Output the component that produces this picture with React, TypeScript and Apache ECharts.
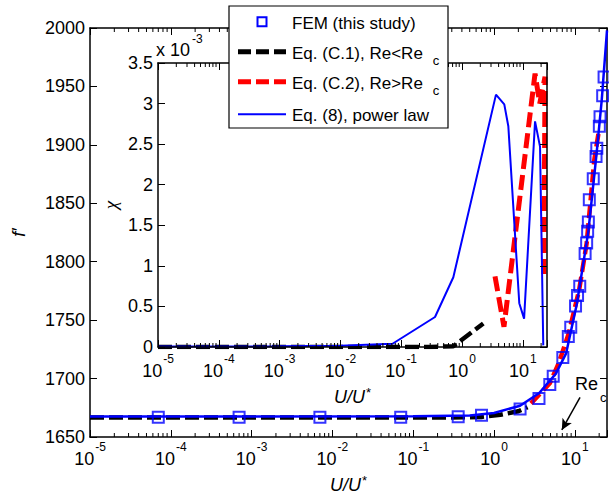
import React, { useEffect, useRef } from 'react';
import * as echarts from 'echarts';

const FONT = '"Liberation Sans", Arial, Helvetica, sans-serif';
const X_MIN = 1e-5;
const X_MAX = 25;

// ---------- names ----------
const NAME_FEM = 'FEM (this study)';
const NAME_C1 = 'Eq. (C.1), Re<Re c';
const NAME_C2 = 'Eq. (C.2), Re>Re c';
const NAME_PL = 'Eq. (8), power law';

// ---------- main plot (f') ----------
const femX = [7e-5, 7e-4, 7e-3, 7e-2, 0.36, 0.7, 2.1, 3.6, 4.9, 5.4, 7.1, 8.3, 8.9, 10.2, 10.8, 11.5, 13.4, 14.0, 14.4, 14.7, 15.1, 16.9, 18.3, 18.7, 20.1, 20.5, 22.1, 23.0];
const femY = [1667, 1667, 1667, 1667, 1667.4, 1668.6, 1674, 1683, 1695, 1702, 1718, 1736, 1744, 1762, 1771, 1779, 1807, 1816, 1826, 1834, 1853, 1871, 1890, 1897, 1916, 1924, 1942, 1958];

const plX = [1e-5, 1e-3, 0.1, 0.5, 1, 2.1, 3.6, 5.8, 7.8, 10.6, 14.7, 18.6, 21.5, 25];
const plY = [1667.6, 1667.6, 1667.7, 1668.5, 1670.5, 1676.8, 1687.4, 1704, 1721.6, 1764, 1826, 1893, 1938, 1998];

const c1X = [1e-5, 0.3, 0.7, 1.2, 2, 2.6];
const c1Y = [1666.6, 1666.6, 1667.2, 1669, 1672, 1675.5];

const c2X = [2.86, 4.9, 6.3, 8.4, 11.3, 14, 17.4, 19.9];
const c2Y = [1678.8, 1696, 1713, 1738.7, 1775.8, 1815.7, 1887, 1912.7];

// ---------- inset (chi, x 1e-3) ----------
const inPlX = [1e-5, 1e-4, 1e-3, 1e-2, 0.072, 0.36, 0.72, 3.62, 4.96, 5.78, 8.75, 10.5, 15.9, 19.2, 21.7];
const inPlY = [0.005, 0.006, 0.008, 0.015, 0.04, 0.37, 0.86, 3.11, 2.99, 2.72, 0.54, 0.35, 2.78, 2.47, 0.02];

const inC1X = [1e-5, 0.3, 0.72, 2.24];
const inC1Y = [0, 0, 0.01, 0.29];

const inC2X = [3.49, 4.9, 15.9, 19.0, 23.2, 22.2];
const inC2Y = [0.87, 0.25, 3.37, 3.0, 3.33, 0.85];

// arrow annotation (Re_c)
const arrowFrom = [11.6, 1684];
const arrowTo = [6.9, 1656];

const zip = (xs: number[], ys: number[]) => xs.map((x, i) => [x, ys[i]]);

// minor tick positions of the log axes (2..9 x 10^k)
const minorTicks: number[] = [];
for (let k = -5; k <= 1; k++) {
  for (let m = 2; m <= 9; m++) {
    const v = m * Math.pow(10, k);
    if (v < X_MAX) minorTicks.push(v);
  }
}

const logLabel = (v: number) => {
  const e = Math.log10(v);
  const r = Math.round(e);
  if (Math.abs(e - r) > 1e-6) return '';
  return `{b|10}{s|${r}}`;
};

const tickRich = {
  b: { fontSize: 18, fontFamily: FONT, color: '#000', lineHeight: 27, verticalAlign: 'bottom' },
  s: { fontSize: 12, fontFamily: FONT, color: '#000', lineHeight: 12, verticalAlign: 'top', padding: [0, 0, 0, 1] },
};

const nameRich = {
  u: { fontSize: 18, fontFamily: FONT, fontStyle: 'italic', color: '#000', lineHeight: 20 },
  s: { fontSize: 13, fontFamily: FONT, color: '#000', lineHeight: 13, padding: [0, 0, 10, 1] },
};

const axisLine = { show: true, onZero: false, lineStyle: { color: '#000', width: 1.5 } };

function xAxisLog(gridIndex: number, position: 'top' | 'bottom', z: number, margin: number, extra: any = {}) {
  const bottom = position === 'bottom';
  return {
    gridIndex,
    type: 'log',
    logBase: 10,
    min: X_MIN,
    max: X_MAX,
    position,
    z,
    nameMoveOverlap: false,
    axisLine,
    axisTick: { show: true, inside: true, length: 7, lineStyle: { color: '#000', width: 1 } },
    axisLabel: bottom
      ? { show: true, formatter: logLabel, rich: tickRich, margin, color: '#000', hideOverlap: false }
      : { show: false },
    splitLine: { show: false },
    minorTick: { show: false },
    ...extra,
  };
}

function yAxisVal(gridIndex: number, position: 'left' | 'right', min: number, max: number, interval: number, z: number, extra: any = {}) {
  const left = position === 'left';
  return {
    gridIndex,
    type: 'value',
    min,
    max,
    interval,
    position,
    z,
    nameMoveOverlap: false,
    axisLine,
    axisTick: { show: true, inside: true, length: 7, lineStyle: { color: '#000', width: 1 } },
    axisLabel: left
      ? { show: true, formatter: (v: number) => String(v), fontSize: 18, fontFamily: FONT, color: '#000', margin: 5 }
      : { show: false },
    splitLine: { show: false },
    ...extra,
  };
}

const minorTickRender = (len: number) => (params: any, api: any) => {
  const cs = params.coordSys;
  const x = api.coord([api.value(0), api.value(1)])[0];
  const style = { stroke: '#000', lineWidth: 1 };
  return {
    type: 'group',
    children: [
      { type: 'line', shape: { x1: x, y1: cs.y + cs.height, x2: x, y2: cs.y + cs.height - len }, style },
      { type: 'line', shape: { x1: x, y1: cs.y, x2: x, y2: cs.y + len }, style },
    ],
  };
};

// ---------- hand-drawn legend (MATLAB style) ----------
const LEG = { x: 229, y: 6, w: 219, h: 122, iconX1: 238, iconX2: 286, textX: 292 };
const legendRows = [21.7, 51.7, 81.7, 114.3];
const legendRich = {
  t: { fontSize: 17, fontFamily: FONT, fill: '#000', lineHeight: 20 },
  c: { fontSize: 13, fontFamily: FONT, fill: '#000', lineHeight: 13, padding: [14, 0, 0, 10] },
};
const legendLabels = [
  '{t|FEM (this study)}',
  '{t|Eq. (C.1), Re<Re}{c|c}',
  '{t|Eq. (C.2), Re>Re}{c|c}',
  '{t|Eq. (8), power law}',
];
const LZ = 100;
const legendLine = (y: number, stroke: string, lineWidth: number, dash: number[] | null) => ({
  type: 'line',
  z: LZ + 1,
  shape: { x1: LEG.iconX1, y1: y, x2: LEG.iconX2, y2: y },
  style: { stroke, lineWidth, lineDash: dash || undefined, lineCap: 'butt' },
});
const legendElements: any[] = [
  { type: 'rect', z: LZ, shape: { x: LEG.x, y: LEG.y, width: LEG.w, height: LEG.h }, style: { fill: '#fff', stroke: '#000', lineWidth: 1.2 } },
  {
    type: 'rect',
    z: LZ + 1,
    shape: { x: (LEG.iconX1 + LEG.iconX2) / 2 - 4.5, y: legendRows[0] - 4.5, width: 9, height: 9 },
    style: { fill: 'none', stroke: '#0000ff', lineWidth: 2 },
  },
  legendLine(legendRows[1], '#000', 5, [13, 5]),
  legendLine(legendRows[2], '#ff0000', 5, [13, 5]),
  legendLine(legendRows[3], '#0000ff', 2, null),
  ...legendLabels.map((text, i) => ({
    type: 'text',
    z: LZ + 1,
    x: LEG.textX,
    y: legendRows[i] + 1.5,
    style: { text, align: 'left', verticalAlign: 'middle', fill: '#000', rich: legendRich },
  })),
];

const option: any = {
  animation: false,
  backgroundColor: '#fff',
  textStyle: { fontFamily: FONT },
  grid: [
    { left: 90, right: 2, top: 28, bottom: 63, containLabel: false, outerBoundsMode: 'none' },
    { left: 158, right: 62, top: 63, bottom: 153, containLabel: false, outerBoundsMode: 'none', show: true, backgroundColor: '#fff', borderWidth: 0, z: 3 },
  ],
  xAxis: [
    xAxisLog(0, 'bottom', 0, 4, {
      name: '{u|U/U}{s|*}',
      nameLocation: 'middle',
      nameGap: 38,
      nameTextStyle: { rich: nameRich },
    }),
    xAxisLog(0, 'top', 0, 8),
    xAxisLog(1, 'bottom', 5, 6, {
      name: '{u|U/U}{s|*}',
      nameLocation: 'middle',
      nameGap: 40,
      nameTextStyle: { rich: nameRich },
    }),
    xAxisLog(1, 'top', 5, 8),
  ],
  yAxis: [
    yAxisVal(0, 'left', 1650, 2000, 50, 0, {
      name: 'f′',
      nameLocation: 'middle',
      nameRotate: 90,
      nameGap: 62,
      nameTextStyle: { fontSize: 18, fontStyle: 'italic', fontFamily: FONT, color: '#000' },
    }),
    yAxisVal(0, 'right', 1650, 2000, 50, 0),
    yAxisVal(1, 'left', 0, 3.5, 0.5, 5, {
      name: 'χ',
      nameLocation: 'middle',
      nameRotate: 90,
      nameGap: 38,
      nameTextStyle: { fontSize: 19, fontStyle: 'italic', fontFamily: '"Liberation Serif", "DejaVu Serif", serif', color: '#000' },
    }),
    yAxisVal(1, 'right', 0, 3.5, 0.5, 5),
  ],
  graphic: [
    ...legendElements,
    {
      type: 'text',
      x: 156,
      y: 50,
      z: 10,
      style: {
        text: '{b|x 10}{s|-3}',
        align: 'left',
        verticalAlign: 'middle',
        fill: '#000',
        rich: {
          b: { fontSize: 18, fontFamily: FONT, fill: '#000', lineHeight: 20 },
          s: { fontSize: 12, fontFamily: FONT, fill: '#000', lineHeight: 12, padding: [0, 0, 22, 2] },
        },
      },
    },
    {
      type: 'text',
      x: 575,
      y: 384,
      z: 10,
      style: {
        text: '{b|Re}{c|c}',
        align: 'left',
        verticalAlign: 'middle',
        fill: '#000',
        rich: {
          b: { fontSize: 18, fontFamily: FONT, fill: '#000', lineHeight: 20 },
          c: { fontSize: 13, fontFamily: FONT, fill: '#000', lineHeight: 13, padding: [26, 0, 0, 2] },
        },
      },
    },
  ],
  series: [
    // ---- main ----
    {
      name: NAME_C1,
      type: 'line',
      xAxisIndex: 0,
      yAxisIndex: 0,
      z: 1,
      symbol: 'none',
      data: zip(c1X, c1Y),
      lineStyle: { color: '#000', width: 4.5, type: [14, 5] },
      itemStyle: { color: '#000' },
      markLine: {
        silent: true,
        symbol: ['none', 'arrow'],
        symbolSize: [8, 11],
        label: { show: false },
        lineStyle: { color: '#000', width: 1.5, type: 'solid' },
        data: [[{ coord: arrowFrom }, { coord: arrowTo }]],
      },
    },
    {
      name: NAME_C2,
      type: 'line',
      xAxisIndex: 0,
      yAxisIndex: 0,
      z: 1,
      symbol: 'none',
      data: zip(c2X, c2Y),
      lineStyle: { color: '#ff0000', width: 4.5, type: [13, 5] },
      itemStyle: { color: '#ff0000' },
    },
    {
      name: NAME_PL,
      type: 'line',
      xAxisIndex: 0,
      yAxisIndex: 0,
      z: 1,
      symbol: 'none',
      data: zip(plX, plY),
      lineStyle: { color: '#0000ff', width: 2.5 },
      itemStyle: { color: '#0000ff' },
    },
    {
      name: NAME_FEM,
      type: 'scatter',
      xAxisIndex: 0,
      yAxisIndex: 0,
      z: 1,
      symbol: 'rect',
      symbolSize: 11,
      data: zip(femX, femY),
      itemStyle: { color: 'rgba(0,0,0,0)', borderColor: '#0000ff', borderWidth: 2 },
    },
    {
      type: 'custom',
      xAxisIndex: 0,
      yAxisIndex: 0,
      z: 1,
      silent: true,
      renderItem: minorTickRender(4),
      data: minorTicks.map((v) => [v, 1650]),
    },
    // ---- inset ----
    {
      name: NAME_C1,
      type: 'line',
      xAxisIndex: 2,
      yAxisIndex: 2,
      z: 4,
      symbol: 'none',
      data: zip(inC1X, inC1Y),
      lineStyle: { color: '#000', width: 4.5, type: [14, 5] },
      itemStyle: { color: '#000' },
    },
    {
      name: NAME_C2,
      type: 'line',
      xAxisIndex: 2,
      yAxisIndex: 2,
      z: 4,
      symbol: 'none',
      data: zip(inC2X, inC2Y),
      lineStyle: { color: '#ff0000', width: 5, type: [15, 6] },
      itemStyle: { color: '#ff0000' },
    },
    {
      name: NAME_PL,
      type: 'line',
      xAxisIndex: 2,
      yAxisIndex: 2,
      z: 4,
      symbol: 'none',
      data: zip(inPlX, inPlY),
      lineStyle: { color: '#0000ff', width: 2 },
      itemStyle: { color: '#0000ff' },
    },
    {
      type: 'custom',
      xAxisIndex: 2,
      yAxisIndex: 2,
      z: 5,
      silent: true,
      renderItem: minorTickRender(4),
      data: minorTicks.map((v) => [v, 0]),
    },
  ],
};

export default function App() {
  const ref = useRef<HTMLDivElement>(null);
  useEffect(() => {
    document.body.style.margin = '0';
    const chart = echarts.init(ref.current!, undefined, { renderer: 'svg' });
    chart.setOption(option);
    return () => chart.dispose();
  }, []);
  return <div ref={ref} style={{ width: 609, height: 500 }} />;
}
